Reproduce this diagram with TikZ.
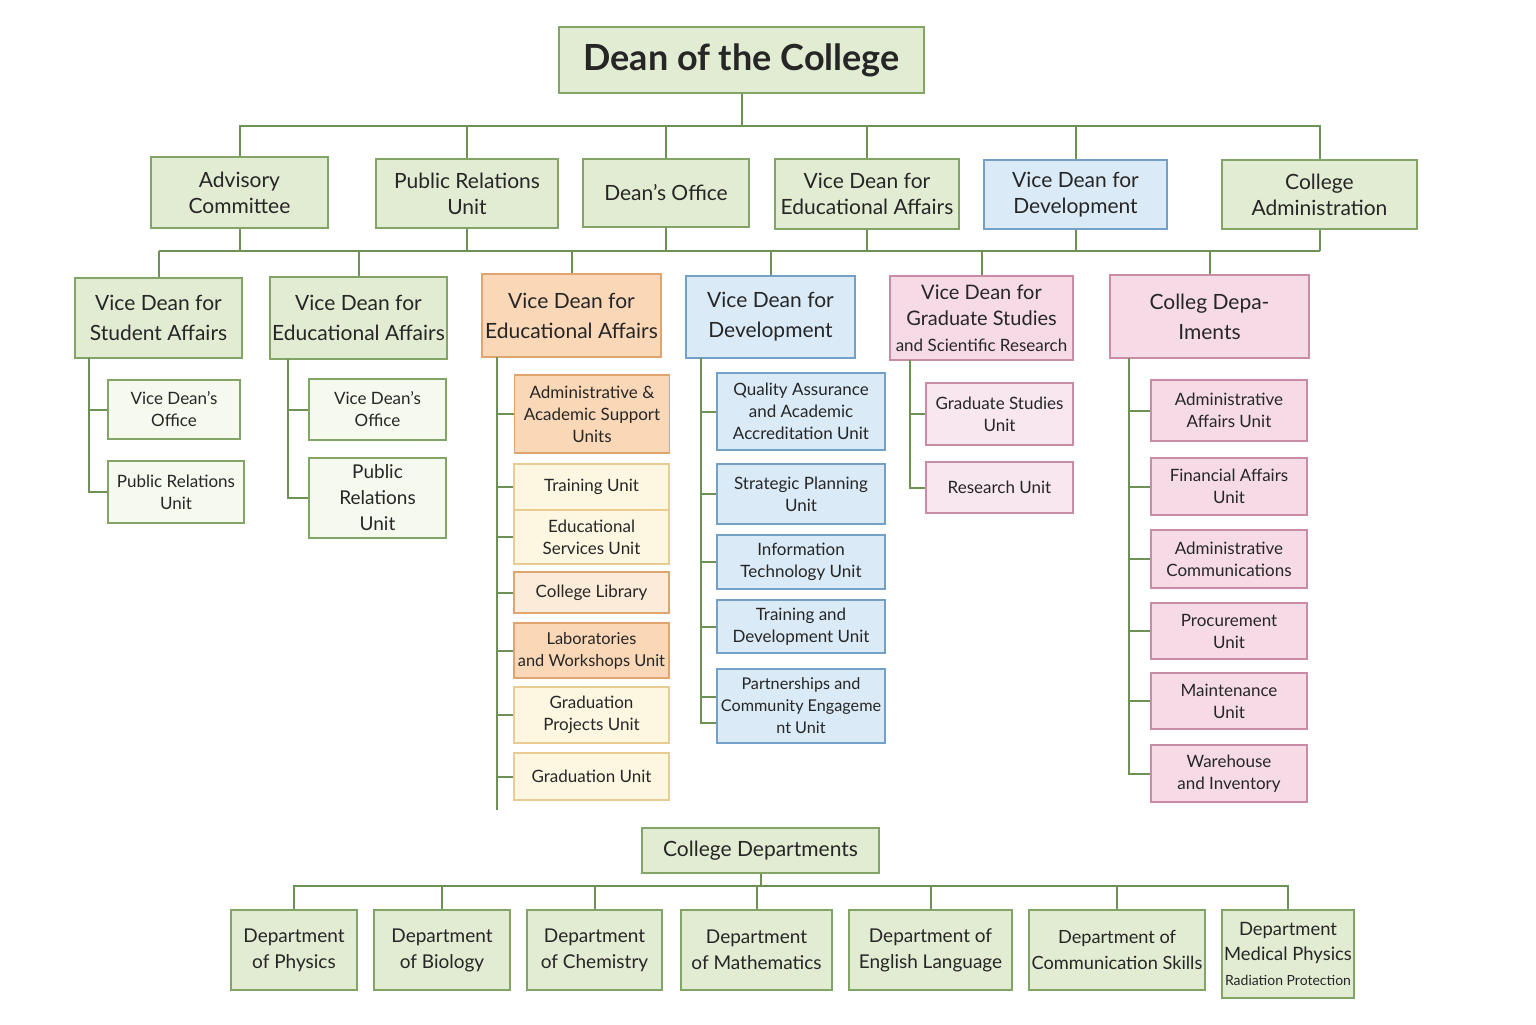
\documentclass[tikz,border=0pt]{standalone}
\usepackage{fontspec}
\setmainfont{Lato}
\definecolor{lnk}{HTML}{6E9155}
\definecolor{grD}{HTML}{82A466}
\definecolor{grF}{HTML}{E2ECD2}
\definecolor{grL}{HTML}{F6F9EE}
\definecolor{orD}{HTML}{E0A46F}
\definecolor{orF}{HTML}{FAD8B7}
\definecolor{orL}{HTML}{FCEBD9}
\definecolor{ylD}{HTML}{E8CC92}
\definecolor{ylF}{HTML}{FDF7E2}
\definecolor{blD}{HTML}{74A0C6}
\definecolor{blF}{HTML}{DAEAF7}
\definecolor{pkD}{HTML}{C88CA7}
\definecolor{pkF}{HTML}{F6DBE7}
\definecolor{pkL}{HTML}{F8E7EF}
\tikzset{
  box/.style={rectangle,draw,line width=0.9pt,align=center,inner sep=1pt,text=black!85},
  sz/.style 2 args={minimum width=#1pt,minimum height=#2pt},
  gbox/.style={box,draw=grD,fill=grF},
  gsub/.style={box,draw=grD,fill=grL},
  obox/.style={box,draw=orD,fill=orF},
  olib/.style={box,draw=orD,fill=orL},
  ybox/.style={box,draw=ylD,fill=ylF},
  bbox/.style={box,draw=blD,fill=blF},
  pbox/.style={box,draw=pkD,fill=pkF},
  psub/.style={box,draw=pkD,fill=pkL},
  fT/.style={font=\fontsize{18}{22}\selectfont\bfseries},
  fB/.style={font=\fontsize{10.5}{13}\selectfont},
  fC/.style={font=\fontsize{10.5}{15}\selectfont},
  fS/.style={font=\fontsize{8.5}{11}\selectfont},
  fD/.style={font=\fontsize{9.5}{13}\selectfont},
  link/.style={draw=lnk,line width=1pt}
}
\begin{document}
\begin{tikzpicture}[x=0.5pt,y=-0.5pt]
\useasboundingbox[fill=white] (0,0) rectangle (1536,1024);
% top
\node [gbox,fT,sz={182.5}{33}] (dean) at (741.5,60) {Dean of the College};
% second row
\node [gbox,fB,sz={88.5}{35.5}] (adv) at (239.5,192.5) {Advisory\\Committee};
\node [gbox,fB,sz={91}{34.5}] (pru) at (467,193.5) {Public Relations\\Unit};
\node [gbox,fB,sz={83}{34}] (dof) at (666,193) {Dean's Office};
\node [gbox,fB,sz={92}{35}] (vdea) at (867,194) {Vice Dean for\\Educational Affairs};
\node [bbox,fB,sz={91.5}{34.5}] (vdd) at (1075.5,194.5) {Vice Dean for\\Development};
\node [gbox,fB,sz={97.5}{34.5}] (cadm) at (1319.5,194.5) {College\\Administration};
% third row
\node [gbox,fC,sz={83.5}{40}] (sa) at (158.5,318) {Vice Dean for\\Student Affairs};
\node [gbox,fC,sz={87.5}{41}] (eg) at (358.5,318) {Vice Dean for\\Educational Affairs};
\node [obox,fC,sz={89.5}{41.5}] (eo) at (571.5,315.5) {Vice Dean for\\Educational Affairs};
\node [bbox,fC,sz={84.5}{41}] (dv) at (770.5,317) {Vice Dean for\\Development};
\node [pbox,fC,sz={91.5}{42},font=\fontsize{10}{13}\selectfont] (gs) at (981.5,318) {Vice Dean for\\Graduate Studies\\{\fontsize{8.5}{11}\selectfont and Scientific Research}};
\node [pbox,fC,sz={99.5}{41.5}] (cd) at (1209.5,316.5) {Colleg Depa-\\Iments};
% units
\node [gsub,fS,sz={66}{29.5}] (sa1) at (174,409.5) {Vice Dean's\\Office};
\node [gsub,fS,sz={68}{31}] (sa2) at (176,492) {Public Relations\\Unit};
\node [gsub,fS,sz={68.5}{30.5}] (eg1) at (377.5,409.5) {Vice Dean's\\Office};
\node [gsub,fD,sz={68.5}{40}] (eg2) at (377.5,498) {Public\\Relations\\Unit};
\node [obox,fS,sz={77.5}{39}] (eo1) at (592,414) {Administrative \&\\Academic Support\\Units};
\node [ybox,fS,sz={77.5}{23}] (eo2) at (591.5,487) {Training Unit};
\node [ybox,fS,sz={77.5}{27}] (eo3) at (591.5,537) {Educational\\Services Unit};
\node [olib,fS,sz={77.5}{20.5}] (eo4) at (591.5,592.5) {College Library};
\node [obox,fS,sz={77.5}{27.5},font=\fontsize{8.2}{11}\selectfont] (eo5) at (591.5,650.5) {Laboratories\\and Workshops Unit};
\node [ybox,fS,sz={77.5}{28}] (eo6) at (591.5,715) {Graduation\\Projects Unit};
\node [ybox,fS,sz={77.5}{23.5}] (eo7) at (591.5,776.5) {Graduation Unit};
\node [bbox,fS,sz={84}{38.5}] (dv1) at (801,411.5) {Quality Assurance\\and Academic\\Accreditation Unit};
\node [bbox,fS,sz={84}{30}] (dv2) at (801,494) {Strategic Planning\\Unit};
\node [bbox,fS,sz={84}{27}] (dv3) at (801,562) {Information\\Technology Unit};
\node [bbox,fS,sz={84}{26.5}] (dv4) at (801,626.5) {Training and\\Development Unit};
\node [bbox,fS,sz={84}{37},font=\fontsize{8.1}{11}\selectfont] (dv5) at (801,706) {Partnerships and\\Community Engageme\\nt Unit};
\node [psub,fS,sz={73.5}{31}] (gs1) at (999.5,414) {Graduate Studies\\Unit};
\node [psub,fS,sz={73.5}{25.5}] (gs2) at (999.5,487.5) {Research Unit};
\node [pbox,fS,sz={78}{30.5}] (cd1) at (1229,410.5) {Administrative\\Affairs Unit};
\node [pbox,fS,sz={78}{28.5}] (cd2) at (1229,486.5) {Financial Affairs\\Unit};
\node [pbox,fS,sz={78}{29}] (cd3) at (1229,559) {Administrative\\Communications};
\node [pbox,fS,sz={78}{28}] (cd4) at (1229,631) {Procurement\\Unit};
\node [pbox,fS,sz={78}{28}] (cd5) at (1229,701) {Maintenance\\Unit};
\node [pbox,fS,sz={78}{28.5}] (cd6) at (1229,773.5) {Warehouse\\and Inventory};
% departments
\node [gbox,fC,sz={118.5}{22.5}] (cdep) at (760.5,850.5) {College Departments};
\node [gbox,fD,sz={63}{40}] (dp1) at (294,950) {Department\\of Physics};
\node [gbox,fD,sz={68}{40}] (dp2) at (442,950) {Department\\of Biology};
\node [gbox,fD,sz={67.5}{40}] (dp3) at (594.5,950) {Department\\of Chemistry};
\node [gbox,fD,sz={75.5}{40}] (dp4) at (756.5,950) {Department\\of Mathematics};
\node [gbox,fD,sz={81.5}{40}] (dp5) at (930.5,950) {Department of\\English Language};
\node [gbox,fD,sz={88}{40},font=\fontsize{9.1}{13}\selectfont] (dp6) at (1117,950) {Department of\\Communication Skills};
\node [gbox,fD,sz={66}{44},font=\fontsize{9.2}{12.5}\selectfont] (dp7) at (1288,954) {Department\\Medical Physics\\{\fontsize{7}{10}\selectfont Radiation Protection}};
% bus lines
\coordinate (bA) at (0,126);
\coordinate (bB) at (0,251);
\coordinate (bC) at (0,886);
\foreach \c in {adv,pru,dof,vdea,vdd,cadm}
  \draw [link] (dean.south) -- (dean.south |- bA) -| (\c.north);
\foreach \p in {adv,pru,dof,vdea,vdd,cadm}
  \draw [link] (\p.south) -- (\p.south |- bB);
\draw [link] (sa.north |- bB) -- (cadm.south |- bB);
\foreach \c in {sa,eg,eo,dv,gs,cd}
  \draw [link] (\c.north |- bB) -- (\c.north);
\foreach \c in {dp1,dp2,dp3,dp4,dp5,dp6,dp7}
  \draw [link] (cdep.south) -- (cdep.south |- bC) -| (\c.north);
% unit trunks
\coordinate (tsa) at (89,358);
\coordinate (teg) at (288,359);
\coordinate (teo) at (497,357);
\coordinate (teoE) at (497,810);
\coordinate (tdv) at (701,358);
\coordinate (tgs) at (910,360);
\coordinate (tcd) at (1129,358);
\foreach \c in {sa1,sa2} \draw [link] (tsa) |- (\c.west);
\foreach \c in {eg1,eg2} \draw [link] (teg) |- (\c.west);
\draw [link] (teo) -- (teoE);
\foreach \c in {eo1,eo2,eo3,eo4,eo5,eo6,eo7} \draw [link] (teo) |- (\c.west);
\foreach \c in {dv1,dv2,dv3,dv4} \draw [link] (tdv) |- (\c.west);
\draw [link] (tdv) |- ([yshift=4.5pt]dv5.west);
\draw [link] (tdv) |- ([yshift=-8.5pt]dv5.west);
\foreach \c in {gs1,gs2} \draw [link] (tgs) |- (\c.west);
\foreach \c in {cd1,cd2,cd3,cd4,cd5,cd6} \draw [link] (tcd) |- (\c.west);
\end{tikzpicture}
\end{document}
